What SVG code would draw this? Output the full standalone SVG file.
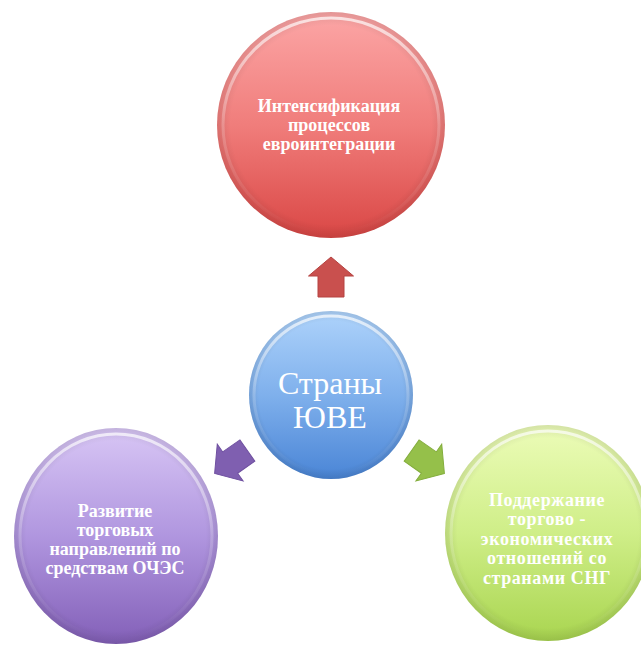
<svg xmlns="http://www.w3.org/2000/svg" width="641" height="647" viewBox="0 0 641 647">
<style>
.lbl{font-family:"Liberation Serif","DejaVu Serif",serif;font-weight:bold;font-size:18px;fill:#ffffff;text-anchor:middle}
.big{font-family:"Liberation Serif","DejaVu Serif",serif;font-size:32px;fill:#ffffff;text-anchor:middle}
.rim{fill:none;stroke-width:3}
</style>
<defs>
<linearGradient id="gRed" x1="0" y1="0" x2="0" y2="1"><stop offset="0" stop-color="#fca6a6"/><stop offset="0.5" stop-color="#f07d7b"/><stop offset="1" stop-color="#da4745"/></linearGradient>
<linearGradient id="gBlue" x1="0" y1="0" x2="0" y2="1"><stop offset="0" stop-color="#aed3fb"/><stop offset="0.5" stop-color="#7fb0ec"/><stop offset="1" stop-color="#4a85d6"/></linearGradient>
<linearGradient id="gPur" x1="0" y1="0" x2="0" y2="1"><stop offset="0" stop-color="#d8c6f5"/><stop offset="0.5" stop-color="#b096df"/><stop offset="1" stop-color="#8360b8"/></linearGradient>
<linearGradient id="gGrn" x1="0" y1="0" x2="0" y2="1"><stop offset="0" stop-color="#ecfcb8"/><stop offset="0.5" stop-color="#cfee88"/><stop offset="1" stop-color="#a9d550"/></linearGradient>
<linearGradient id="gRim" x1="0" y1="0" x2="0" y2="1"><stop offset="0" stop-color="#ffffff" stop-opacity="0.7"/><stop offset="0.5" stop-color="#ffffff" stop-opacity="0.2"/><stop offset="1" stop-color="#ffffff" stop-opacity="0"/></linearGradient>
<radialGradient id="gShade" cx="0.5" cy="0.5" r="0.5"><stop offset="0.88" stop-color="#000000" stop-opacity="0"/><stop offset="1" stop-color="#000000" stop-opacity="0.1"/></radialGradient>
<path id="arrow" d="M0,-20 L22.5,-1 L13,-1 L13,20 L-13,20 L-13,-1 L-22.5,-1 Z"/>
</defs>
<rect width="641" height="647" fill="#ffffff"/>

<g id="connectors">
<use href="#arrow" transform="translate(331,277)" fill="#c9504e" stroke="#b54341" stroke-width="1"/>
<use href="#arrow" transform="translate(231,462) rotate(-125)" fill="#7f5fb0" stroke="#6f50a0" stroke-width="1"/>
<use href="#arrow" transform="translate(428,462) rotate(125)" fill="#95c04a" stroke="#83ad3c" stroke-width="1"/>
</g>

<g id="node-red">
<ellipse cx="331" cy="125" rx="114" ry="113" fill="url(#gRed)"/>
<ellipse cx="331" cy="125" rx="114" ry="113" fill="url(#gShade)"/>
<ellipse cx="331" cy="125" rx="108" ry="107" class="rim" stroke="url(#gRim)"/>
<text class="lbl" x="329" y="112">Интенсификация</text>
<text class="lbl" x="329" y="131">процессов</text>
<text class="lbl" x="329" y="150">евроинтеграции</text>
</g>

<g id="node-blue">
<ellipse cx="331" cy="395" rx="82" ry="84" fill="url(#gBlue)"/>
<ellipse cx="331" cy="395" rx="82" ry="84" fill="url(#gShade)"/>
<ellipse cx="331" cy="395" rx="77" ry="79" class="rim" stroke="url(#gRim)"/>
<text class="big" x="330" y="394">Страны</text>
<text class="big" x="330" y="428">ЮВЕ</text>
</g>

<g id="node-purple">
<ellipse cx="116" cy="536" rx="102" ry="108" fill="url(#gPur)"/>
<ellipse cx="116" cy="536" rx="102" ry="108" fill="url(#gShade)"/>
<ellipse cx="116" cy="536" rx="96" ry="102" class="rim" stroke="url(#gRim)"/>
<text class="lbl" x="115" y="517">Развитие</text>
<text class="lbl" x="115" y="536">торговых</text>
<text class="lbl" x="115" y="555">направлений по</text>
<text class="lbl" x="115" y="574">средствам  ОЧЭС</text>
</g>

<g id="node-green">
<ellipse cx="548" cy="533" rx="103" ry="108" fill="url(#gGrn)"/>
<ellipse cx="548" cy="533" rx="103" ry="108" fill="url(#gShade)"/>
<ellipse cx="548" cy="533" rx="97" ry="102" class="rim" stroke="url(#gRim)"/>
<text class="lbl" x="547" y="506" letter-spacing="0.6">Поддержание</text>
<text class="lbl" x="547" y="525" letter-spacing="0.6">торгово -</text>
<text class="lbl" x="547" y="545" letter-spacing="0.6">экономических</text>
<text class="lbl" x="547" y="564" letter-spacing="0.6">отношений со</text>
<text class="lbl" x="547" y="584" letter-spacing="0.6">странами СНГ</text>
</g>
</svg>
